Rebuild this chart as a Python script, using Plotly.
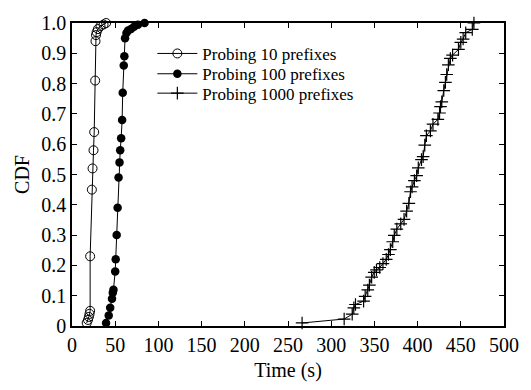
import plotly.graph_objects as go

# Probing 10 prefixes
x10 = [17, 18.5, 19.5, 20.3, 21, 21, 23, 23.8, 24.9, 25.7, 26.8, 27.2, 27.8, 28.5, 30, 33, 36.5, 39.5]
y10 = [0.01, 0.02, 0.03, 0.04, 0.05, 0.23, 0.45, 0.52, 0.58, 0.64, 0.81, 0.94, 0.96, 0.97, 0.98, 0.99, 0.995, 1.0]

# Probing 100 prefixes
x100 = [39.4, 42.5, 44.2, 46.3, 47.2, 48, 50, 50.6, 51.7, 52.8, 53.9, 55, 55.8, 56.9, 58, 58.7,
        59.9, 60.6, 61.4, 63, 65, 68.3, 71.8, 76.3, 84]
y100 = [0.01, 0.035, 0.06, 0.09, 0.11, 0.12, 0.18, 0.22, 0.30, 0.39, 0.49, 0.54, 0.58, 0.62, 0.68, 0.77,
        0.86, 0.89, 0.95, 0.967, 0.975, 0.98, 0.988, 0.994, 1.0]

# Probing 1000 prefixes
x1000 = [266.3, 315, 324.3, 326.2, 328.1, 337.5, 339.3, 342.3, 344.2, 346.8, 349.8, 352.4, 356.2, 359.9,
         363.7, 366.3, 368.5, 371.2, 373, 376, 380.5, 384.3, 387.3, 389.9, 391.8, 393.6, 396.3,
         398.9, 400.8, 404.5, 406.4, 408.3, 410.2, 414.8, 417.8, 423.5, 425.4, 426.5, 428, 430.3,
         432.2, 433.7, 435.6, 437.9, 440.5, 447.3, 450, 452.7, 455.7, 463.3, 465.2]
y1000 = [0.01, 0.023, 0.039, 0.06, 0.071, 0.082, 0.098, 0.119, 0.135, 0.161, 0.177, 0.185, 0.193, 0.206,
         0.22, 0.236, 0.252, 0.278, 0.299, 0.32, 0.337, 0.352, 0.379, 0.405, 0.443, 0.459, 0.48,
         0.496, 0.522, 0.549, 0.559, 0.597, 0.628, 0.644, 0.666, 0.682, 0.703, 0.724, 0.740, 0.777,
         0.804, 0.830, 0.862, 0.883, 0.894, 0.913, 0.936, 0.947, 0.968, 0.979, 1.0]

xticks = [0, 50, 100, 150, 200, 250, 300, 350, 400, 450, 500]
yticks = [0, 0.1, 0.2, 0.3, 0.4, 0.5, 0.6, 0.7, 0.8, 0.9, 1.0]
ytick_text = ["0", "0.1", "0.2", "0.3", "0.4", "0.5", "0.6", "0.7", "0.8", "0.9", "1.0"]

FONT = "Liberation Serif"

fig = go.Figure()
fig.add_trace(go.Scatter(x=x10, y=y10, mode="lines+markers", name="Probing 10 prefixes",
                         line=dict(color="black", width=1), legend="legend",
                         marker=dict(symbol="circle-open", size=9, color="black", line=dict(width=1)),
                         cliponaxis=False))
fig.add_trace(go.Scatter(x=x100, y=y100, mode="lines+markers", name="Probing 100 prefixes",
                         line=dict(color="black", width=1), legend="legend2",
                         marker=dict(symbol="circle", size=8.5, color="black"),
                         cliponaxis=False))
fig.add_trace(go.Scatter(x=x1000, y=y1000, mode="lines+markers", name="Probing 1000 prefixes",
                         line=dict(color="black", width=1), legend="legend3",
                         marker=dict(symbol="cross-thin-open", size=9, color="black", line=dict(width=1.2, color="black")),
                         cliponaxis=False))

axis_common = dict(showline=True, linecolor="black", linewidth=1.5, mirror="ticks",
                   ticks="inside", ticklen=5, tickcolor="black", tickwidth=1,
                   showgrid=False, zeroline=False, ticklabeloverflow="allow",
                   tickfont=dict(family=FONT, size=20, color="black"))

leg_common = dict(x=0.186, xanchor="left", yanchor="middle",
                  bgcolor="rgba(0,0,0,0)", borderwidth=0,
                  font=dict(family=FONT, size=17, color="black"), itemwidth=40)

fig.update_layout(
    width=531, height=390,
    margin=dict(l=72, r=14, t=20, b=56),
    paper_bgcolor="white", plot_bgcolor="white",
    font=dict(family=FONT, size=20, color="black"),
    showlegend=True,
    legend=dict(y=0.898, **leg_common),
    legend2=dict(y=0.831, **leg_common),
    legend3=dict(y=0.767, **leg_common),
    xaxis=dict(range=[0, 500], tickvals=xticks,
               title=dict(text="Time (s)", font=dict(family=FONT, size=20), standoff=8),
               **axis_common),
    yaxis=dict(range=[0, 1], tickvals=yticks, ticktext=ytick_text,
               title=dict(text="CDF", font=dict(family=FONT, size=20), standoff=6),
               **axis_common),
)

fig.write_html("out.html")
